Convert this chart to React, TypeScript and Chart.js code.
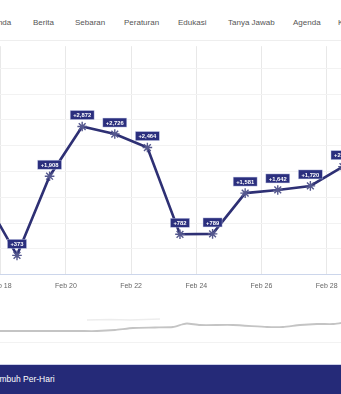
import React, { useEffect, useRef } from "react";
import { Chart, registerables } from "chart.js";

Chart.register(...registerables);

// ---- data ----
const navItems = ["Beranda", "Berita", "Sebaran", "Peraturan", "Edukasi", "Tanya Jawab", "Agenda", "Kontak"];
const monthLabel = "Feb";
const days = [17, 18, 19, 20, 21, 22, 23, 24, 25, 26, 27, 28];
const recovered = [1490, 373, 1908, 2872, 2726, 2464, 782, 789, 1581, 1642, 1720, 2094];
const tickDays = [18, 20, 22, 24, 26, 28];
const yTicks = [0, 500, 1000, 1500, 2000, 2500, 3000, 3500, 4000];
// navigator (overview) series
const navX = [0, 40, 80, 97, 115, 133, 155, 173, 182, 187, 200, 233, 267, 283, 300, 317, 333, 341];
const navY = [14, 14, 14, 14, 15, 17, 17.5, 18, 20.5, 21.5, 20, 20, 18, 18, 20, 21, 21, 22];
const ghostX = [87, 110, 130, 160];
const ghostY = [25, 25.5, 25, 26];
const barTitle = "Sembuh Per-Hari";

// ---- layout / style constants ----
const FONT = "'Liberation Sans', Arial, sans-serif";
const NAVY = "#2b2f7e";
const LINE = "#2e3074";
const navLeft = [-19, 33, 75, 124, 178, 228, 293, 338];

const labelPlugin = {
  id: "boxLabels",
  afterDatasetsDraw(chart: any) {
    const meta = chart.getDatasetMeta(0);
    const ctx = chart.ctx;
    ctx.save();
    ctx.font = `bold 5.8px ${FONT}`;
    ctx.textAlign = "center";
    ctx.textBaseline = "middle";
    meta.data.forEach((pt: any, i: number) => {
      const text = "+" + recovered[i].toLocaleString("en-US");
      const w = ctx.measureText(text).width + 6;
      const h = 9;
      const bx = pt.x - w / 2;
      const by = pt.y - 7 - h;
      ctx.fillStyle = NAVY;
      ctx.fillRect(bx, by, w, h);
      ctx.strokeStyle = "rgba(200,205,235,0.7)";
      ctx.lineWidth = 0.6;
      ctx.strokeRect(bx, by, w, h);
      ctx.fillStyle = "#ffffff";
      ctx.fillText(text, pt.x, by + h / 2 + 0.5);
    });
    ctx.restore();
  },
};

export default function App() {
  const mainRef = useRef<HTMLCanvasElement>(null);
  const navRef = useRef<HTMLCanvasElement>(null);

  useEffect(() => {
    const xMin = 20 - 123 / 33.5;
    const xMax = xMin + 460 / 33.5;
    const main = new Chart(mainRef.current as HTMLCanvasElement, {
      type: "line",
      data: {
        datasets: [
          {
            data: days.map((d, i) => ({ x: d + 0.5, y: recovered[i] })),
            borderColor: LINE,
            borderWidth: 2.6,
            pointStyle: "star",
            pointRadius: 4.8,
            pointBorderColor: "#55588e",
            pointBorderWidth: 1.4,
            pointBackgroundColor: "#ffffff",
            tension: 0,
          },
        ],
      },
      options: {
        responsive: false,
        maintainAspectRatio: false,
        animation: false,
        layout: { padding: 0 },
        plugins: { legend: { display: false }, tooltip: { enabled: false } },
        scales: {
          x: {
            type: "linear",
            min: xMin,
            max: xMax,
            afterBuildTicks: (s: any) => {
              s.ticks = tickDays.map((v) => ({ value: v }));
            },
            ticks: {
              callback: (v: any) => `${monthLabel} ${v}`,
              color: "#666666",
              font: { size: 7, family: FONT },
              padding: 7,
              maxRotation: 0,
              autoSkip: false,
            },
            grid: { color: "#e8e8e8", drawTicks: false, lineWidth: 1 },
            border: { color: "#ccd6eb", width: 1 },
          },
          y: {
            min: 0,
            max: 4430,
            afterBuildTicks: (s: any) => {
              s.ticks = yTicks.map((v) => ({ value: v }));
            },
            ticks: { display: false },
            grid: { color: "#f2f2f2", drawTicks: false },
            border: { display: false },
          },
        },
      },
      plugins: [labelPlugin],
    });

    const nav = new Chart(navRef.current as HTMLCanvasElement, {
      type: "line",
      data: {
        datasets: [
          {
            data: navX.map((x, i) => ({ x, y: navY[i] })),
            borderColor: "#c4c4c4",
            borderWidth: 1.8,
            pointRadius: 0,
            tension: 0.2,
          },
          {
            data: ghostX.map((x, i) => ({ x, y: ghostY[i] })),
            borderColor: "#ededed",
            borderWidth: 1.5,
            pointRadius: 0,
          },
        ],
      },
      options: {
        responsive: false,
        maintainAspectRatio: false,
        animation: false,
        layout: { padding: 0 },
        plugins: { legend: { display: false }, tooltip: { enabled: false } },
        scales: {
          x: { type: "linear", min: 0, max: 341, display: false },
          y: { min: 0, max: 45, display: false },
        },
      },
    });

    return () => {
      main.destroy();
      nav.destroy();
    };
  }, []);

  return (
    <div
      style={{
        position: "fixed",
        left: 0,
        top: 0,
        width: 341,
        height: 394,
        overflow: "hidden",
        background: "#ffffff",
        fontFamily: FONT,
      }}
    >
      {navItems.map((t, i) => (
        <div
          key={t}
          style={{
            position: "absolute",
            left: navLeft[i],
            top: 18,
            fontSize: 8,
            lineHeight: "10px",
            color: "#555555",
            whiteSpace: "nowrap",
          }}
        >
          {t}
        </div>
      ))}
      <div style={{ position: "absolute", left: 0, top: 40, width: 341, height: 1, background: "#eeeeee" }} />
      <canvas
        ref={mainRef}
        width={460}
        height={257}
        style={{ position: "absolute", left: -60, top: 40, width: 460, height: 257 }}
      />
      <canvas
        ref={navRef}
        width={341}
        height={45}
        style={{ position: "absolute", left: 0, top: 300, width: 341, height: 45 }}
      />
      <div style={{ position: "absolute", left: 0, top: 342, width: 341, height: 1, background: "#f2f2f2" }} />
      <div
        style={{
          position: "absolute",
          left: 0,
          top: 364,
          width: 341,
          height: 30,
          background: "#252a78",
          borderTop: "1px solid #cdd0e8",
        }}
      >
        <div
          style={{
            position: "absolute",
            left: -11,
            top: 9,
            fontSize: 8.5,
            lineHeight: "11px",
            color: "#ffffff",
            whiteSpace: "nowrap",
          }}
        >
          {barTitle}
        </div>
      </div>
    </div>
  );
}
